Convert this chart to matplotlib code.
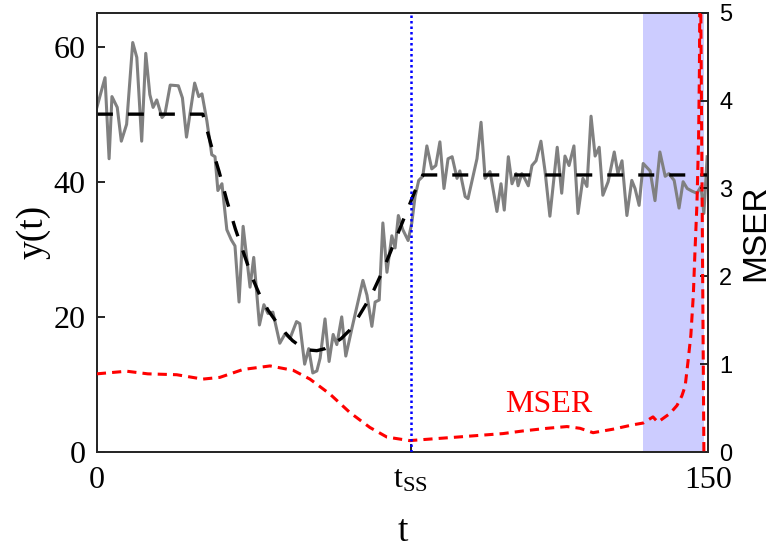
import numpy as np
import matplotlib
matplotlib.use('Agg')
import matplotlib.pyplot as plt

# observed signal y(t)
t_obs = [0, 2, 3, 3.7, 5, 6, 7.3, 8.8, 9.8, 11, 12, 13, 13.8, 14.7, 16, 16.7, 18, 20, 21, 22,
         24, 25, 25.8, 27, 28.2, 29, 29.7, 30.7, 31.9, 33, 33.9, 34.9, 35.9, 37.6, 38.5, 39.9,
         41, 42, 43.2, 44.9, 46.2, 47.4, 49, 49.8, 51, 52, 53, 54, 54.8, 56, 57, 58, 58.9,
         60.1, 61.1, 62.6, 65.3, 66.3, 67.5, 68.3, 69.3, 70.2, 71.2, 72.4, 73.2, 74, 75.1,
         76.4, 77.3, 78.1, 79, 80, 81, 82.2, 83.2, 84.2, 85.2, 86.2, 87.2, 88.4, 89.1, 90.4,
         91.1, 93.3, 94.3, 95.3, 96.5, 97.3, 98.2, 99.2, 100, 101, 101.9, 102.9, 103.4, 104.3,
         105, 105.9, 106.8, 107.8, 109, 110, 111.2, 113, 114.1, 114.9, 115.9, 117.1, 118.1,
         119.3, 120.3, 121.3, 122.3, 123.3, 124.2, 125.5, 127, 127.9, 128.9, 130.1, 131.3,
         132.1, 133.1, 134.1, 135.8, 137, 138.2, 139.5, 140.4, 141.7, 142.9, 143.9, 144.9,
         146.1, 147.3, 148.3, 149, 149.8]
y_obs = [51, 55.4, 43.4, 52.6, 51, 46, 48.5, 60.6, 58.4, 46, 59, 52.9, 51, 52.1, 49.5, 50, 54.3, 54.2, 52.4, 46.6,
         54.6, 52.6, 53, 49, 44, 43.7, 38.7, 39.7, 32.9, 31.4, 30.5, 22.2, 33.4, 24.4, 28.8, 18.8,
         21.8, 20.5, 20.7, 16.1, 17.5, 16.8, 19.3, 19, 13, 15.3, 11.7, 12, 13.9, 19.7, 13.4, 17.4, 15.9,
         20, 14.2, 18.3, 25.4, 23.2, 18.6, 22.2, 22.5, 33.9, 26.6, 32, 30.2, 35, 32.9,
         31.3, 33.9, 37.8, 40.2, 40.8, 45.3, 41.9, 42.4, 45.9, 39, 43.4, 43.7, 40.5, 41.6, 37.8,
         37.5, 43.4, 48.8, 40.5, 41.5, 38.7, 35.6, 39.7, 35.8, 43.7, 39.7, 41.2, 39.4, 41.2,
         40.5, 39.4, 42.4, 43.1, 46, 41.6, 34.9, 45.1, 38.3, 43.8, 42.4, 45.3, 35.3,
         40.5, 39.3, 49.7, 43.8, 45.1, 38, 40, 44.4, 41.2, 43.1, 35, 40.2,
         39, 36.5, 42.7, 41.6, 37.2, 44.4, 40.8, 41.2, 40.2, 36.1, 40, 39,
         38.6, 38.3, 39.3, 35.3, 43.7]

# underlying mean
t_mean = [0, 26, 28, 30, 32, 34, 36, 38, 40, 42, 44, 46, 48, 50, 52, 54, 56, 58, 60, 62,
          64, 66, 68, 70, 72, 74, 76, 78, 80, 150]
y_mean = [50, 50, 45.5, 41.5, 37, 33, 29.5, 26, 23.2, 21, 19.3, 17.8, 16.5, 15.6, 15.1, 15, 15.3, 16, 16.8, 18,
          19.8, 21.8, 24, 26.6, 29.5, 32.5, 35.5, 38.5, 41, 41]

# MSER statistic
t_mser = [0, 7.3, 12.5, 19.6, 26, 30.2, 35.9, 42.5, 48.2, 52.3, 57.2, 62.1, 67, 71.2, 76.8, 82.5,
          88.4, 94, 99.7, 104.6, 110.5, 115.4, 118.6, 121.8, 126.7, 131.6, 134.1, 136.5, 137.7,
          140.7, 142.4, 143.6, 144.4, 145.1, 145.8, 146.4, 146.8, 147.3, 147.7, 147.9, 148.1, 149]
mser = [0.89, 0.92, 0.89, 0.88, 0.83, 0.85, 0.94, 0.98, 0.93, 0.83, 0.66, 0.45, 0.28, 0.17, 0.13, 0.15,
        0.17, 0.19, 0.21, 0.24, 0.27, 0.29, 0.27, 0.22, 0.26, 0.31, 0.33, 0.4, 0.34,
        0.44, 0.53, 0.64, 0.75, 1.03, 1.33, 1.78, 2.27, 2.83, 3.58, 4.33, 6.0, 0.0]

t_ss = 77
shade = [134, 149]

plt.rcParams['mathtext.fontset'] = 'custom'
plt.rcParams['mathtext.rm'] = 'Liberation Serif'
serif = 'Liberation Serif'
sans = 'Liberation Sans'

fig = plt.figure(figsize=(7.75, 5.56), dpi=100)
ax = fig.add_axes([0.125, 0.187, 0.7885, 0.79])
ax2 = ax.twinx()

ax.axvspan(shade[0], shade[1], color='#ccccff', lw=0, zorder=0)
ax.plot(t_obs, y_obs, color='#808080', lw=2.2, zorder=2)
ax.plot(t_mean, y_mean, color='black', lw=2.4, linestyle=(0, (4.8, 4.5)), zorder=3)
ax.text(111, 7, 'MSER', color='red', fontsize=23, family=serif, ha='center', va='center')

ax2.plot(t_mser, mser, color='red', lw=2.2, linestyle=(0, (3, 2)), zorder=3)
ax2.axvline(t_ss, color='blue', lw=1.8, linestyle=(0, (1, 1.2)), zorder=4)

ax.set_xlim(0, 150)
ax.set_ylim(0, 65)
ax2.set_ylim(0, 5)

ax.set_xticks([0, t_ss, 150])
ax.set_xticklabels(['0', r'$\mathrm{t_{SS}}$', '150'])
ax.set_yticks([0, 20, 40, 60])
ax2.set_yticks([0, 1, 2, 3, 4, 5])

for lab in ax.get_xticklabels() + ax.get_yticklabels():
    lab.set_fontfamily(serif)
    lab.set_fontsize(23)
for lab in ax2.get_yticklabels():
    lab.set_fontfamily(sans)
    lab.set_fontsize(17)

ax.tick_params(axis='y', direction='in', length=6, width=1.2, pad=8)
ax.tick_params(axis='x', direction='in', length=6, width=1.2, pad=10)
ax2.tick_params(direction='in', length=6, width=1.2, pad=8)
ax.set_xlabel('t', fontsize=27, family=serif, labelpad=14)
ax.set_ylabel('y(t)', fontsize=27, family=serif, labelpad=2)
ax2.set_ylabel('MSER', fontsize=24, family=sans, labelpad=6)

for a in (ax, ax2):
    for s in a.spines.values():
        s.set_linewidth(1.3)
        s.set_color('#262626')

plt.savefig('out.png', dpi=100)
